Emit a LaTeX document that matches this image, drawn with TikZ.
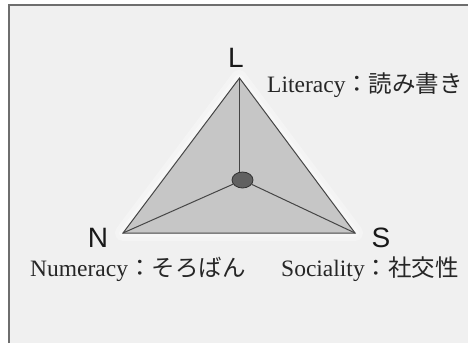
\documentclass[tikz,border=0pt]{standalone}
\usepackage{fontspec}
\setmainfont{Liberation Serif}
\newfontfamily\cjk{Noto Sans CJK JP}
\newfontfamily\hv{Liberation Sans}
\usetikzlibrary{shapes.geometric}
\definecolor{bg}{HTML}{F0F0F0}
\definecolor{tri}{HTML}{C6C6C6}
\definecolor{edge}{HTML}{454545}
\definecolor{frame}{HTML}{6E6E6E}
\tikzset{
  vertexlabel/.style={font=\hv\fontsize{28}{28}\selectfont, inner sep=0pt, anchor=base, text=black!90},
  desc/.style={font=\fontsize{23.5}{25}\selectfont, inner sep=0pt, anchor=base west, text=black!85},
  edgeline/.style={draw=edge, line width=1pt},
}
\begin{document}
\begin{tikzpicture}[x=1pt,y=-1pt]
\useasboundingbox (0,0) rectangle (468,343);
\fill[white] (0,0) rectangle (468,343);
\fill[bg] (9,5) rectangle (468,343);
\draw[frame, line width=1.4pt] (9,343) -- (9,5) -- (468,5);
% soft glow
\draw[white, line width=16pt, line join=round, opacity=0.3] (239,78) -- (123,233) -- (355,233) -- cycle;
\draw[white, line width=8pt, line join=round, opacity=0.3] (239,78) -- (123,233) -- (355,233) -- cycle;
\coordinate (vL) at (239.5,78);
\coordinate (vN) at (123,233);
\coordinate (vS) at (355,233);
\filldraw[fill=tri, edgeline] (vL) -- (vN) -- (vS) -- cycle;
\node[ellipse, fill=edge!85, draw=edge!70!black, line width=0.8pt, minimum width=21pt, minimum height=16pt, inner sep=0pt] (c) at (242.5,180) {};
\draw[edgeline] (vL) -- (vL |- c.north);
\draw[edgeline] (c) -- (vN);
\draw[edgeline] (c) -- (vS);
\node[vertexlabel] (L) at (236,67) {L};
\node[vertexlabel] (N) at (98,247) {N};
\node[vertexlabel] (S) at (381,247) {S};
\node[desc] (lit) at (267,92) {Literacy{\cjk ：読み書き}};
\node[desc] (num) at (30,276) {Numeracy{\cjk ：そろばん}};
\node[desc] (soc) at (281,276) {Sociality{\cjk ：社交性}};
\end{tikzpicture}
\end{document}
